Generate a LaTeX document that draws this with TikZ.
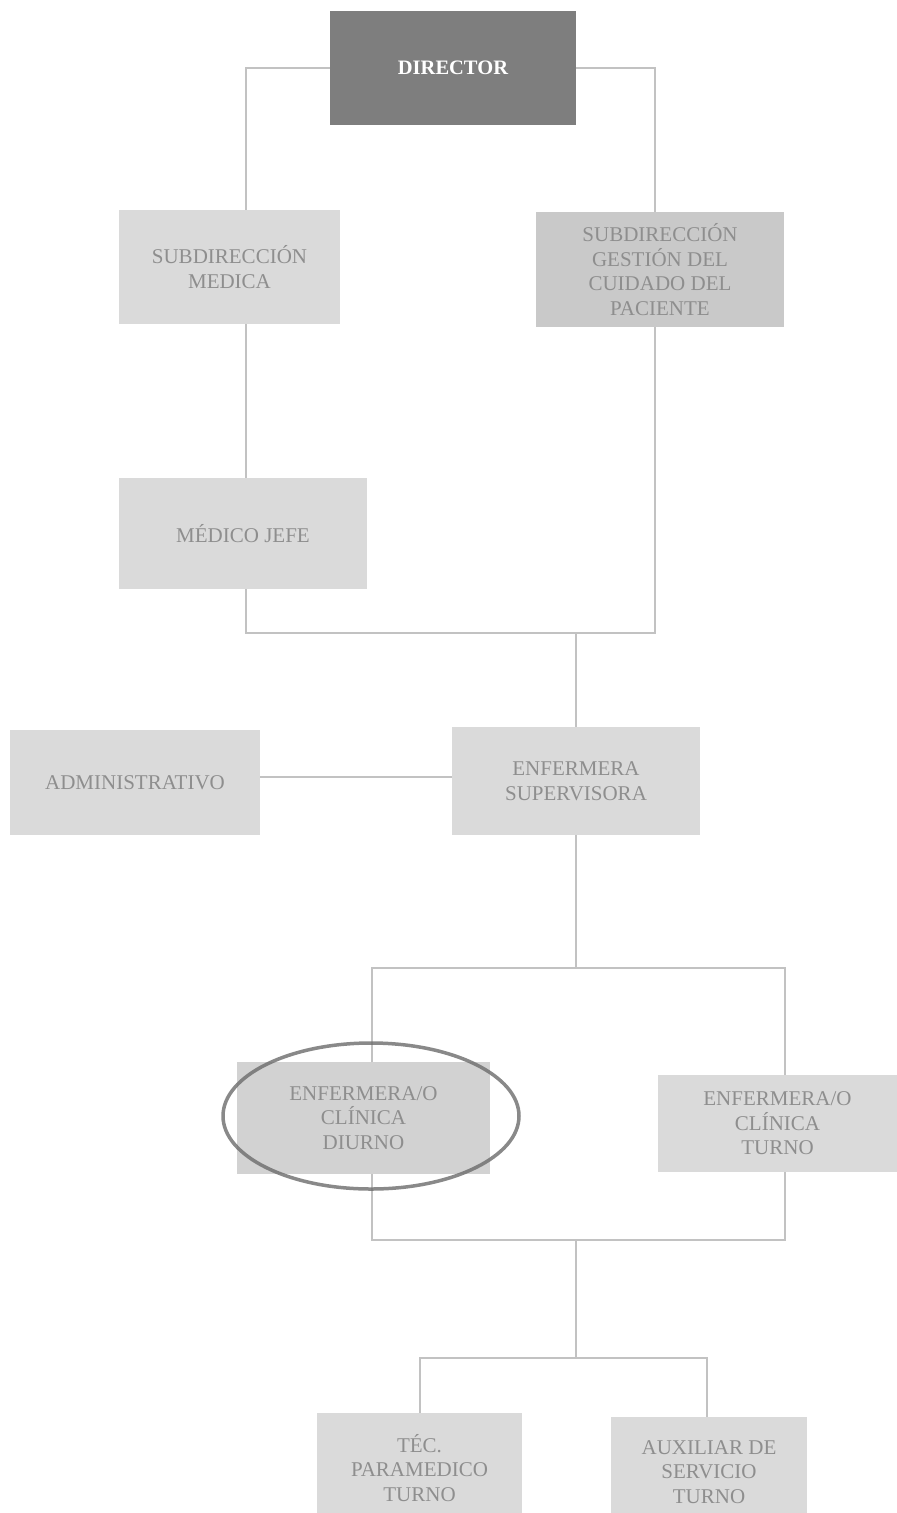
\documentclass[tikz,border=0pt]{standalone}
\usepackage{fontspec}
\setmainfont{Liberation Serif}
\begin{document}
\begin{tikzpicture}[x=1pt,y=-1pt,
  box/.style={fill=boxfill, draw=none, inner sep=0pt, align=center, text=textgray,
    font=\fontsize{21}{24.5}\selectfont},
  conn/.style={draw=linegray, line width=2pt}]
\definecolor{boxfill}{HTML}{DADADA}
\definecolor{boxmid}{HTML}{C9C9C9}
\definecolor{boxdiur}{HTML}{D2D2D2}
\definecolor{textgray}{HTML}{8E8E8E}
\definecolor{linegray}{HTML}{C2C2C2}
\definecolor{dirfill}{HTML}{7E7E7E}
\useasboundingbox (0,0) rectangle (897,1513);
\fill[white] (0,0) rectangle (897,1513);
% nodes
\node[box, fill=dirfill, text=white, font=\fontsize{20.5}{24}\selectfont\bfseries,
  minimum width=246pt, minimum height=114pt] (dir) at (453,68) {DIRECTOR};
\node[box, minimum width=221pt, minimum height=114pt] (smed) at (229.5,267) {SUBDIRECCIÓN\\MEDICA};
\node[box, fill=boxmid, minimum width=248pt, minimum height=115pt] (sges) at (660,269.5) {SUBDIRECCIÓN\\GESTIÓN DEL\\CUIDADO DEL\\PACIENTE};
\node[box, minimum width=248pt, minimum height=111pt] (mjefe) at (243,533.5) {MÉDICO JEFE};
\node[box, minimum width=250pt, minimum height=105pt] (adm) at (135,782.5) {ADMINISTRATIVO};
\node[box, minimum width=248pt, minimum height=108pt] (sup) at (576,781) {ENFERMERA\\SUPERVISORA};
\node[box, fill=boxdiur, minimum width=253pt, minimum height=112pt] (diur) at (363.5,1118) {ENFERMERA/O\\CLÍNICA\\DIURNO};
\node[box, minimum width=239pt, minimum height=97pt] (turn) at (777.5,1123.5) {ENFERMERA/O\\CLÍNICA\\TURNO};
\node[box, minimum width=205pt, minimum height=110pt] (tec) at (419.5,1468) {TÉC.\\PARAMEDICO\\TURNO};
\node[box, minimum width=196pt, minimum height=110pt] (aux) at (709,1472) {AUXILIAR DE\\SERVICIO\\TURNO};
% coordinates
\coordinate (j1) at (576,633);
\coordinate (j2) at (576,968);
\coordinate (j3) at (576,1240);
\coordinate (j4) at (576,1358);
% connectors
\draw[conn] (dir.west) -| (246,210);
\draw[conn] (dir.east) -| (655,212);
\draw[conn] (246,324) -- (246,478);
\draw[conn] (246,589) |- (j1) -| (655,327);
\draw[conn] (j1) -- (sup.north);
\draw[conn] (adm.east |- 0,777) -- (sup.west |- 0,777);
\draw[conn] (sup.south) -- (j2);
\draw[conn] (372,1062) |- (785,968) -- (785,1075);
\draw[conn] (372,1174) |- (785,1240) -- (785,1172);
\draw[conn] (j3) -- (j4);
\draw[conn] (420,1413) |- (707,1358) -- (707,1417);
% ellipse
\draw[draw=gray!85!black, line width=3.5pt, opacity=0.8] (371,1116) ellipse [x radius=148pt, y radius=73pt];
\end{tikzpicture}
\end{document}
